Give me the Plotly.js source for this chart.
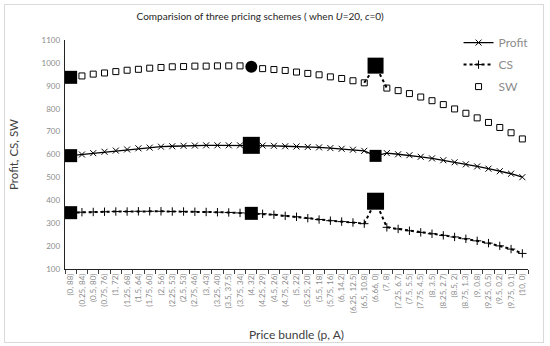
<!DOCTYPE html>
<html><head><meta charset="utf-8">
<script src="https://cdn.plot.ly/plotly-3.0.1.min.js"></script>
<style>
body{margin:0;}
#chart{width:550px;height:346px;}
#frame{position:absolute;left:4px;top:4px;width:538px;height:337px;border:1px solid #d9d9d9;pointer-events:none;}
</style>
</head><body>
<div id="chart"></div><div id="frame"></div>
<script>
const priceBundles = ["(0, 88)","(0.25, 84)","(0.5, 80)","(0.75, 76)","(1, 72)","(1.25, 68)","(1.5, 64)","(1.75, 60)","(2, 56)","(2.25, 53)","(2.5, 53)","(2.75, 46)","(3, 43)","(3.25, 40)","(3.5, 37.5)","(3.75, 34)","(4, 32)","(4.25, 29)","(4.5, 26)","(4.75, 24)","(5, 22)","(5.25, 20)","(5.5, 18)","(5.75, 16)","(6, 14.2)","(6.25, 12.5)","(6.5, 10.8)","(6.66, 0)","(7, 8)","(7.25, 6.7)","(7.5, 5.5)","(7.75, 4.5)","(8, 3.5)","(8.25, 2.7)","(8.5, 2)","(8.75, 1.3)","(9, 0.8)","(9.25, 0.5)","(9.5, 0.2)","(9.75, 0.1)","(10, 0)"];
const profit = [595,600,606,612,617,622,627,630,634,636,638,639,640,640,640,640,640,639,638,636,635,633,631,628,625,621,616,594,606,601,597,590,583,575,566,557,548,538,527,516,501];
const cs = [346,348,349,350,351,351,352,352,352,351,351,350,349,348,347,345,343,341,337,332,328,322,316,311,307,303,298,396,282,275,267,260,254,247,240,232,223,213,201,187,168];
const sw = [937,943,951,956,962,968,972,977,980,983,984,986,986,987,987,987,983,975,971,967,960,954,948,939,932,922,913,988,890,879,866,851,835,818,799,780,760,740,718,695,668];
const highlightIdx = [0, 16, 27];

const pick = arr => highlightIdx.map(i => arr[i]);
const hx = pick(priceBundles);
const spike = [26, 27, 28];

const traces = [
  {x: priceBundles, y: profit, name: 'Profit', type: 'scatter', mode: 'lines+markers', legendgroup: 'a',
   line: {color: '#000', width: 1.3},
   marker: {symbol: 'x-thin-open', size: 6, color: '#000', opacity: 1, line: {color: '#000', width: 1}}},
  {x: priceBundles, y: cs, name: 'CS', type: 'scatter', mode: 'lines+markers', legendgroup: 'b',
   line: {color: '#000', width: 2, dash: 'dot'},
   marker: {symbol: 'cross-thin-open', size: 6, color: '#000', opacity: 1, line: {color: '#000', width: 1}}},
  {x: priceBundles, y: sw, name: 'SW', type: 'scatter', mode: 'markers', legendgroup: 'c',
   marker: {symbol: 'square-open', size: 6, color: '#000', opacity: 1, line: {color: '#000', width: 1}}},
  {x: spike.map(i => priceBundles[i]), y: spike.map(i => sw[i]), type: 'scatter', mode: 'lines', showlegend: false,
   line: {color: '#000', width: 2, dash: 'dot'}},
  {x: hx, y: pick(sw), type: 'scatter', mode: 'markers', showlegend: false,
   marker: {symbol: ['square', 'circle', 'square'], size: [13, 12, 16], color: '#000', opacity: 1, line: {width: 0}}},
  {x: hx, y: pick(profit), type: 'scatter', mode: 'markers', showlegend: false,
   marker: {symbol: 'square', size: [13, 17, 12], color: '#000', opacity: 1, line: {width: 0}}},
  {x: hx, y: pick(cs), type: 'scatter', mode: 'markers', showlegend: false,
   marker: {symbol: 'square', size: [13, 13, 17], color: '#000', opacity: 1, line: {width: 0}}}
];

const layout = {
  width: 550, height: 346, autosize: false,
  margin: {l: 65, r: 22, t: 40, b: 77},
  paper_bgcolor: '#fff', plot_bgcolor: '#fff',
  font: {family: 'Lato, "Open Sans", sans-serif', color: '#595959'},
  title: {text: 'Comparision of three pricing schemes ( when <i>U</i>=20, <i>c</i>=0)',
          font: {size: 10, color: '#262626'}, xref: 'container', x: 0.473, xanchor: 'center',
          yref: 'container', y: 0.951, yanchor: 'middle'},
  showlegend: true,
  legend: {x: 0.85, xanchor: 'left', y: 1.052, yanchor: 'top', bgcolor: 'rgba(0,0,0,0)',
           font: {size: 12, color: '#8c8c8c'}, traceorder: 'grouped', tracegroupgap: 3},
  xaxis: {type: 'category', range: [-0.5, 40.5], tickson: 'boundaries', ticks: 'outside', ticklen: 4,
          tickcolor: '#404040', tickwidth: 1, showline: true, linecolor: '#222', linewidth: 1.3,
          showgrid: false, zeroline: false, tickangle: -90,
          tickfont: {size: 8, color: '#8c8c8c'},
          title: {text: 'Price bundle (p, A)', standoff: 18, font: {size: 12, color: '#404040'}}},
  yaxis: {range: [100, 1100], dtick: 100, tick0: 100, showline: true, linecolor: '#222', linewidth: 1.3,
          ticks: '', showgrid: false, zeroline: false, ticklabelstandoff: 2,
          tickfont: {size: 8, color: '#8c8c8c'},
          title: {text: 'Profit, CS, SW', standoff: 20, font: {size: 11.5, color: '#404040'}}}
};
Plotly.newPlot('chart', traces, layout, {displayModeBar: false, staticPlot: true});
</script>
</body></html>
